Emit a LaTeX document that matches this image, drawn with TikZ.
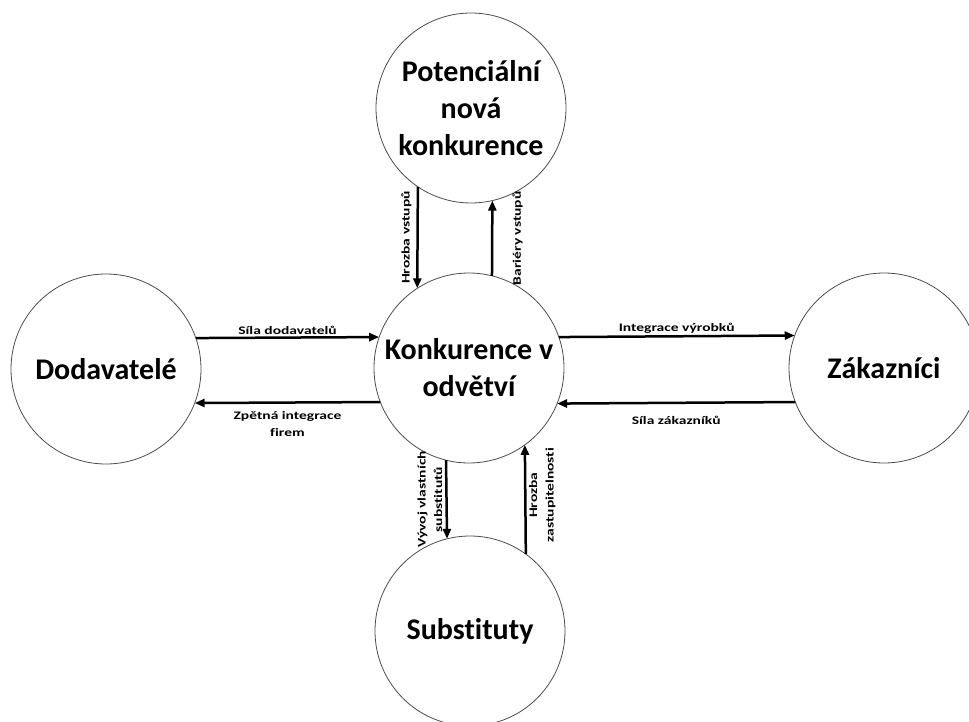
\documentclass[tikz,border=0pt]{standalone}
\usepackage{fontspec}
\usepackage{graphicx}
\setmainfont{Carlito}[Ligatures=NoCommon]
\usetikzlibrary{arrows.meta}
% labels on the arrows are set wide
\newcommand{\wide}[1]{\scalebox{1.35}[1]{#1}}
\begin{document}
\begin{tikzpicture}[x=1pt,y=-1pt,
  force/.style={circle, draw=black!70, line width=0.8pt, minimum size=190pt,
    inner sep=0pt, outer sep=0pt, align=center,
    font=\fontsize{30}{37}\selectfont\bfseries},
  flow/.style={line width=2.5pt, -{Triangle[length=10pt,width=8pt]}},
  lbl/.style={font=\fontsize{11.5}{16.5}\selectfont\bfseries, align=center, inner xsep=0pt}]
\useasboundingbox (0,0) rectangle (969,722);

% the five forces
\node[force] (top)    at (471,108) {Potenciální\\nová\\konkurence};
\node[force] (mid)    at (469,368) {Konkurence v\\odvětví};
\node[force] (left)   at (106,369) {Dodavatelé};
\node[force] (right)  at (884,368) {Zákazníci};
\node[force] (bottom) at (470,631) {Substituty};

% new entrants
\draw[flow] (top.236.1) -- node[lbl, midway, rotate=90, anchor=south, inner ysep=5pt] (l1) {\wide{Hrozba vstupů}} (mid.123.2);
\draw[flow] (mid.76) -- node[lbl, midway, rotate=90, anchor=north, inner ysep=19pt] (l2) {\wide{Bariéry vstupů}} (top.283.4);

% suppliers
\draw[flow] (left.19.7) -- node[lbl, midway, above, inner ysep=1.5pt] (l3) {\wide{Síla dodavatelů}} (mid.161);
\draw[flow] (mid.201.6) -- node[lbl, midway, below, inner ysep=8pt] (l4) {\wide{Zpětná integrace}\\\wide{firem}} (left.339);

% customers
\draw[flow] (mid.19.7) -- node[lbl, midway, above, inner ysep=1.5pt] (l5) {\wide{Integrace výrobků}} (right.160.3);
\draw[flow] (right.201.6) -- node[lbl, midway, below, inner ysep=12pt] (l6) {\wide{Síla zákazníků}} (mid.338.4);

% substitutes
\draw[flow] (mid.256.6) -- node[lbl, midway, rotate=90, anchor=south, inner ysep=3pt] (l7) {\wide{Vývoj vlastních}\\\wide{substitutů}} (bottom.104);
\draw[flow] (bottom.54.6) -- node[lbl, pos=0.54, rotate=90, anchor=north, inner ysep=2.5pt] (l8) {\wide{Hrozba}\\\wide{zastupitelnosti}} (mid.306.1);
\end{tikzpicture}
\end{document}
